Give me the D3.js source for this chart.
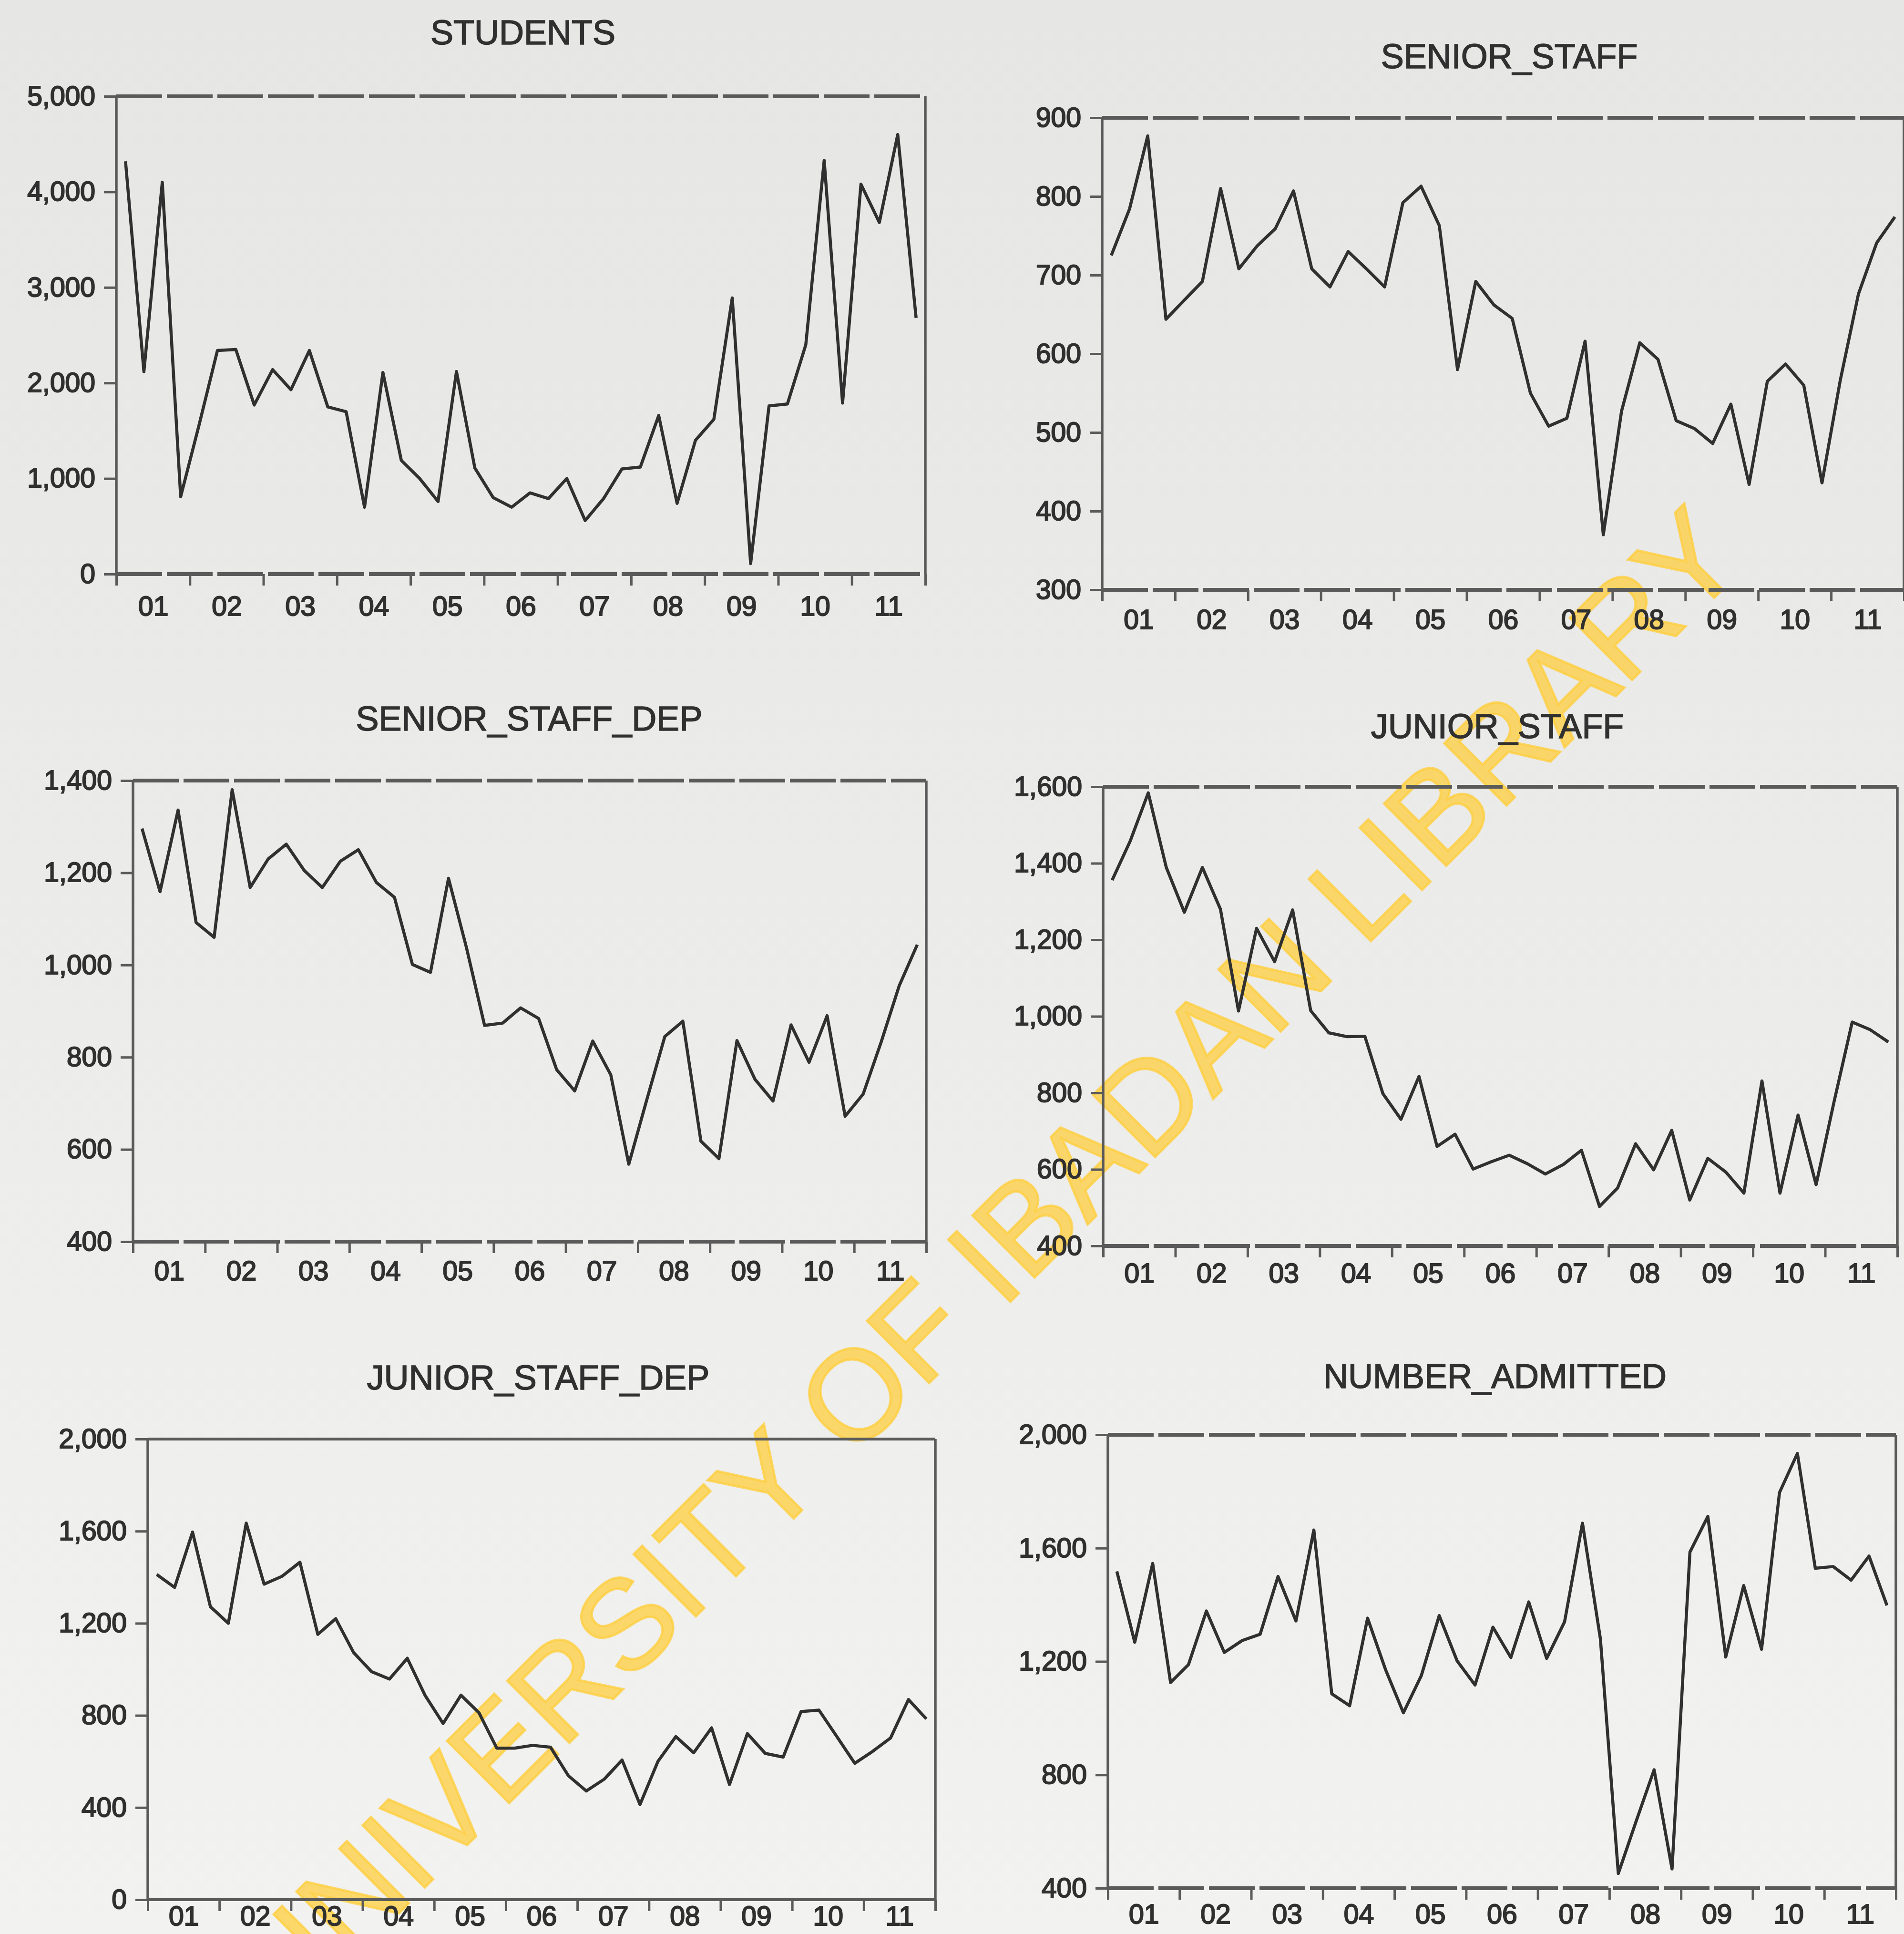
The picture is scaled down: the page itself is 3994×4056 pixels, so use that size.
<!DOCTYPE html>
<html>
<head>
<meta charset="utf-8">
<script src="https://cdn.jsdelivr.net/npm/d3@7"></script>
<style>
  html, body { margin: 0; padding: 0; background: #ebebeb; }
  svg { display: block; }
</style>
</head>
<body>
<svg id="chart" width="3994" height="4056"></svg>
<script>
// Quarterly series, 2001Q1 - 2011Q4 (44 observations each)
const yearLabels = ["01", "02", "03", "04", "05", "06", "07", "08", "09", "10", "11"];

const students = [4320, 2120, 4100, 810, 1560, 2340, 2350, 1770, 2140, 1930,
                  2340, 1750, 1700, 700, 2110, 1190, 1000, 760, 2120, 1110,
                  800, 700, 850, 790, 1000, 560, 790, 1100, 1120, 1660,
                  740, 1400, 1620, 2890, 110, 1760, 1780, 2400, 4330, 1790,
                  4080, 3680, 4600, 2680];

const seniorStaff = [725, 784, 877, 644, 668, 692, 810, 708, 737, 759,
                     807, 708, 685, 730, 708, 685, 792, 813, 763, 580,
                     692, 662, 645, 550, 508, 518, 616, 370, 527, 614,
                     593, 515, 505, 486, 536, 434, 565, 587, 560, 436,
                     566, 676, 741, 774];

const seniorStaffDep = [1296, 1159, 1336, 1092, 1060, 1380, 1168, 1230, 1262, 1205,
                        1168, 1225, 1250, 1179, 1147, 1001, 984, 1188, 1037, 869,
                        874, 907, 884, 773, 727, 835, 762, 568, 708, 845,
                        878, 618, 580, 836, 752, 705, 870, 789, 890, 672,
                        720, 833, 955, 1044];

const juniorStaff = [1356, 1458, 1584, 1389, 1272, 1389, 1280, 1014, 1230, 1143,
                     1278, 1015, 957, 947, 948, 798, 731, 843, 660, 692,
                     601, 620, 637, 615, 588, 613, 650, 503, 551, 667,
                     599, 702, 520, 629, 593, 538, 831, 538, 742, 560,
                     778, 985, 965, 933];

const juniorStaffDep = [1412, 1356, 1596, 1272, 1200, 1635, 1370, 1404, 1465, 1152,
                        1220, 1073, 990, 958, 1048, 886, 765, 888, 812, 658,
                        658, 670, 662, 538, 472, 523, 606, 413, 600, 708,
                        638, 746, 500, 721, 635, 619, 817, 823, 708, 592,
                        644, 702, 869, 785];

const numberAdmitted = [1518, 1268, 1546, 1126, 1189, 1378, 1232, 1274, 1296, 1500,
                        1343, 1664, 1086, 1044, 1353, 1172, 1019, 1150, 1362, 1202,
                        1117, 1321, 1214, 1410, 1211, 1340, 1688, 1280, 452, 637,
                        818, 468, 1586, 1712, 1216, 1468, 1243, 1796, 1934, 1529,
                        1535, 1487, 1572, 1398];

const studentsTicks = [0, 1000, 2000, 3000, 4000, 5000];
const seniorStaffTicks = [300, 400, 500, 600, 700, 800, 900];
const seniorStaffDepTicks = [400, 600, 800, 1000, 1200, 1400];
const juniorStaffTicks = [400, 600, 800, 1000, 1200, 1400, 1600];
const juniorStaffDepTicks = [0, 400, 800, 1200, 1600, 2000];
const numberAdmittedTicks = [400, 800, 1200, 1600, 2000];

// Panel layout (pixel frame of each small chart)
const panels = [
  { title: "STUDENTS", values: students, ticks: studentsTicks,
    x0: 244, x1: 1941, y0: 202, y1: 1204, tx: 1097, ty: 93, lab: 1291, dashed: true },
  { title: "SENIOR_STAFF", values: seniorStaff, ticks: seniorStaffTicks,
    x0: 2312, x1: 3994, y0: 247, y1: 1237, tx: 3166, ty: 143, lab: 1319, dashed: true },
  { title: "SENIOR_STAFF_DEP", values: seniorStaffDep, ticks: seniorStaffDepTicks,
    x0: 279, x1: 1943, y0: 1637, y1: 2604, tx: 1110, ty: 1532, lab: 2685, dashed: true },
  { title: "JUNIOR_STAFF", values: juniorStaff, ticks: juniorStaffTicks,
    x0: 2314, x1: 3980, y0: 1650, y1: 2613, tx: 3141, ty: 1548, lab: 2690, dashed: true },
  { title: "JUNIOR_STAFF_DEP", values: juniorStaffDep, ticks: juniorStaffDepTicks,
    x0: 310, x1: 1962, y0: 3018, y1: 3984, tx: 1129, ty: 2914, lab: 4038, dashed: false },
  { title: "NUMBER_ADMITTED", values: numberAdmitted, ticks: numberAdmittedTicks,
    x0: 2324, x1: 3977, y0: 3009, y1: 3960, tx: 3136, ty: 2911, lab: 4034, dashed: true }
];

const svg = d3.select("#chart");
const W = 3994, H = 4056;
const FONT = "'Liberation Sans', Arial, Helvetica, sans-serif";
const INK = "#303030";
const FRAME = "#5a5a5a";

// page tone
const defs = svg.append("defs");
const grad = defs.append("linearGradient").attr("id", "page")
  .attr("x1", 0).attr("y1", 0).attr("x2", 0).attr("y2", 1);
grad.append("stop").attr("offset", "0%").attr("stop-color", "#e6e6e5");
grad.append("stop").attr("offset", "45%").attr("stop-color", "#ebebea");
grad.append("stop").attr("offset", "100%").attr("stop-color", "#f2f2f0");
svg.append("rect").attr("width", W).attr("height", H).attr("fill", "url(#page)");

// library watermark across the page, beneath the charts
svg.append("text")
  .attr("transform", "translate(2068,2650) rotate(-45)")
  .attr("text-anchor", "middle")
  .attr("dominant-baseline", "central")
  .attr("font-family", FONT)
  .attr("font-size", 268)
  .attr("fill", "#ffcd37")
  .attr("fill-opacity", 0.72)
  .attr("stroke", "#ffcd37")
  .attr("stroke-opacity", 0.72)
  .attr("stroke-width", 5)
  .text("UNIVERSITY OF IBADAN LIBRARY");

const nObs = 44;
const yearTicks = d3.range(0, nObs + 1, 4);
const yearMids = yearLabels.map((d, i) => i * 4 + 2);

panels.forEach(p => {
  const g = svg.append("g");
  const x = d3.scaleLinear().domain([0, nObs]).range([p.x0, p.x1]);
  const y = d3.scaleLinear().domain(d3.extent(p.ticks)).range([p.y1, p.y0]);

  // title
  g.append("text")
    .attr("x", p.tx).attr("y", p.ty)
    .attr("text-anchor", "middle")
    .attr("font-family", FONT).attr("font-size", 72)
    .attr("fill", INK).attr("stroke", INK).attr("stroke-width", 1.6)
    .text(p.title);

  // y axis ticks and labels
  const yAxis = d3.axisLeft(y).tickValues(p.ticks)
    .tickFormat(d3.format(",")).tickSize(26).tickPadding(18);
  const ya = g.append("g").attr("transform", `translate(${p.x0},0)`).call(yAxis);
  ya.select(".domain").remove();
  ya.selectAll("line").attr("stroke", FRAME).attr("stroke-width", 5);
  ya.selectAll("text").attr("font-family", FONT).attr("font-size", 57)
    .attr("fill", INK).attr("stroke", INK).attr("stroke-width", 2.2);

  // x axis: year boundary ticks
  const xAxis = d3.axisBottom(x).tickValues(yearTicks).tickFormat("").tickSize(24);
  const xa = g.append("g").attr("transform", `translate(0,${p.y1})`).call(xAxis);
  xa.select(".domain").remove();
  xa.selectAll("line").attr("stroke", FRAME).attr("stroke-width", 5);

  // year labels centred in each year
  const xLab = d3.axisBottom(x).tickValues(yearMids)
    .tickFormat((d, i) => yearLabels[i]).tickSize(0).tickPadding(0);
  const xl = g.append("g").attr("transform", `translate(0,${p.lab})`).call(xLab);
  xl.select(".domain").remove();
  xl.selectAll("text").attr("dy", 0).attr("font-family", FONT).attr("font-size", 57)
    .attr("fill", INK).attr("stroke", INK).attr("stroke-width", 2.2);

  // frame
  const hz = p.dashed ? "96 10" : null;
  g.append("line").attr("x1", p.x0).attr("x2", p.x1).attr("y1", p.y0).attr("y2", p.y0)
    .attr("stroke", FRAME).attr("stroke-width", p.dashed ? 8 : 6).attr("stroke-dasharray", hz);
  g.append("line").attr("x1", p.x0).attr("x2", p.x1).attr("y1", p.y1).attr("y2", p.y1)
    .attr("stroke", FRAME).attr("stroke-width", p.dashed ? 8 : 6).attr("stroke-dasharray", hz);
  g.append("line").attr("x1", p.x0).attr("x2", p.x0).attr("y1", p.y0).attr("y2", p.y1)
    .attr("stroke", FRAME).attr("stroke-width", 5.5);
  g.append("line").attr("x1", p.x1).attr("x2", p.x1).attr("y1", p.y0).attr("y2", p.y1)
    .attr("stroke", FRAME).attr("stroke-width", 5.5);

  // series line, observations centred in each quarter
  const line = d3.line().x((d, i) => x(i + 0.5)).y(d => y(d));
  g.append("path").datum(p.values)
    .attr("d", line)
    .attr("fill", "none")
    .attr("stroke", INK)
    .attr("stroke-width", 6.5)
    .attr("stroke-linejoin", "round");
});
</script>
</body>
</html>
